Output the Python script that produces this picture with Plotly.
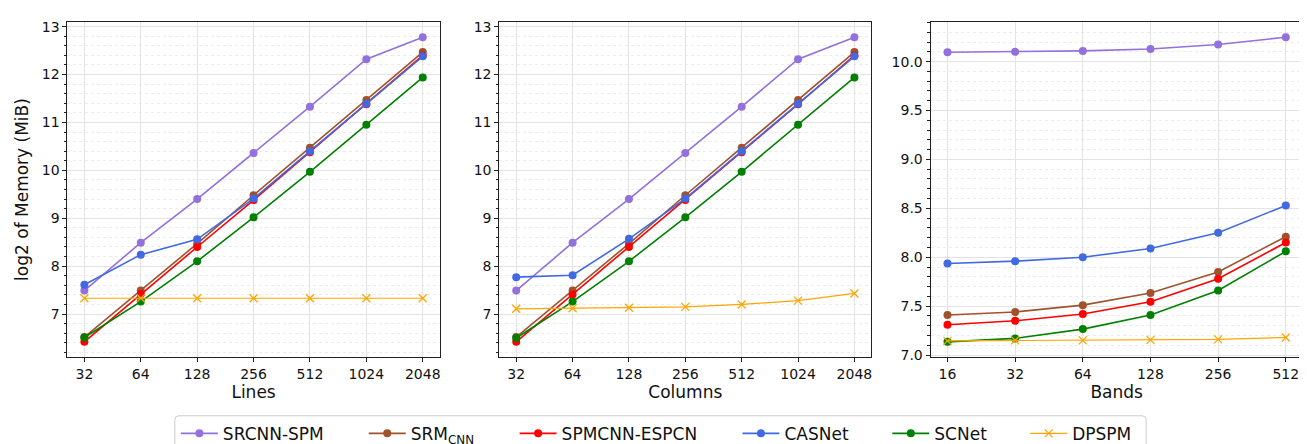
import plotly.graph_objects as go
import math

# ---------------- data ----------------
lines_x = [32, 64, 128, 256, 512, 1024, 2048]
columns_x = [32, 64, 128, 256, 512, 1024, 2048]
bands_x = [16, 32, 64, 128, 256, 512]

series_names = ["SRCNN-SPM", "SRM<sub>CNN</sub>", "SPMCNN-ESPCN", "CASNet", "SCNet", "DPSPM"]

lines_srcnn = [7.49, 8.49, 9.40, 10.36, 11.33, 12.32, 12.78]
lines_srm = [6.52, 7.49, 8.47, 9.48, 10.47, 11.47, 12.47]
lines_spmcnn = [6.42, 7.42, 8.40, 9.38, 10.38, 11.38, 12.40]
lines_casnet = [7.61, 8.24, 8.56, 9.41, 10.40, 11.39, 12.38]
lines_scnet = [6.51, 7.26, 8.10, 9.02, 9.97, 10.95, 11.94]
lines_dpspm = [7.33, 7.33, 7.33, 7.33, 7.33, 7.33, 7.33]

cols_srcnn = [7.49, 8.49, 9.40, 10.36, 11.33, 12.32, 12.78]
cols_srm = [6.52, 7.49, 8.47, 9.48, 10.47, 11.47, 12.47]
cols_spmcnn = [6.42, 7.41, 8.40, 9.38, 10.38, 11.38, 12.40]
cols_casnet = [7.77, 7.81, 8.57, 9.41, 10.40, 11.39, 12.38]
cols_scnet = [6.50, 7.26, 8.10, 9.02, 9.97, 10.95, 11.94]
cols_dpspm = [7.11, 7.12, 7.13, 7.15, 7.20, 7.28, 7.43]

bands_srcnn = [10.096, 10.10, 10.11, 10.13, 10.175, 10.25]
bands_srm = [7.41, 7.44, 7.51, 7.635, 7.85, 8.21]
bands_spmcnn = [7.31, 7.35, 7.42, 7.545, 7.78, 8.15]
bands_casnet = [7.936, 7.96, 8.00, 8.09, 8.25, 8.53]
bands_scnet = [7.135, 7.17, 7.265, 7.41, 7.66, 8.06]
bands_dpspm = [7.145, 7.15, 7.15, 7.155, 7.16, 7.18]

colors = ["#9370DB", "#A0522D", "#FF0000", "#4169E1", "#008000", "#FFA500"]

panels = [
    (lines_x, [lines_srcnn, lines_srm, lines_spmcnn, lines_casnet, lines_scnet, lines_dpspm], "Lines"),
    (columns_x, [cols_srcnn, cols_srm, cols_spmcnn, cols_casnet, cols_scnet, cols_dpspm], "Columns"),
    (bands_x, [bands_srcnn, bands_srm, bands_spmcnn, bands_casnet, bands_scnet, bands_dpspm], "Bands"),
]

W, H = 1307, 444
x_domains = [(59.5, 432), (491.7, 864), (923.3, 1295.7)]
y_dom = [(H - 356.5) / H, (H - 11.3) / H]

# legend layout (pixel positions of each entry's symbol start)
legend_starts = [173, 361, 512, 735, 885, 1023]
legend_box = (167, 1139, 417)

FONT = "DejaVu Sans"
fig = go.Figure()

legend_ids = ["legend"] + [f"legend{i}" for i in range(2, 7)]

for p, (xs, ys_list, title) in enumerate(panels):
    xa = "x" if p == 0 else f"x{p+1}"
    ya = "y" if p == 0 else f"y{p+1}"
    for s, ys in enumerate(ys_list):
        is_dp = (s == 5)
        fig.add_trace(go.Scatter(
            x=xs, y=ys, xaxis=xa, yaxis=ya,
            mode="lines+markers",
            name=series_names[s],
            legendgroup=series_names[s],
            legend=legend_ids[s],
            showlegend=(p == 0),
            line=dict(color=colors[s], width=1.2 if is_dp else 1.6),
            marker=dict(color=colors[s],
                        symbol="x-thin" if is_dp else "circle",
                        size=8,
                        line=dict(color=colors[s], width=1.3 if is_dp else 0)),
        ))

axis_common = dict(
    showline=True, mirror=True, linecolor="#222", linewidth=1,
    ticks="outside", ticklen=4, tickwidth=1, tickcolor="#222",
    tickfont=dict(family=FONT, size=14, color="#111"),
    showgrid=True, gridcolor="#e3e3e3", gridwidth=1,
    zeroline=False,
)

layout = dict(
    width=W, height=H,
    margin=dict(l=0, r=0, t=0, b=0),
    paper_bgcolor="white", plot_bgcolor="white",
    font=dict(family=FONT, color="#111"),
    showlegend=True,
)

for i, lid in enumerate(legend_ids):
    layout[lid] = dict(
        orientation="h", x=(legend_starts[i] - 5) / W, xanchor="left",
        y=(H - legend_box[2]) / H, yanchor="top",
        font=dict(family=FONT, size=17, color="#111"),
        borderwidth=0, bgcolor="rgba(0,0,0,0)", itemwidth=37,
    )

for p, (xs, ys_list, title) in enumerate(panels):
    key = "" if p == 0 else str(p + 1)
    lo = math.log2(xs[0]); hi = math.log2(xs[-1])
    m = (hi - lo) * 0.05
    xr = [(lo - m) * math.log10(2), (hi + m) * math.log10(2)]
    allv = [v for ys in ys_list for v in ys]
    ymin, ymax = min(allv), max(allv)
    ym = (ymax - ymin) * 0.05
    yr = [ymin - ym, ymax + ym]
    d0, d1 = x_domains[p]
    layout["xaxis" + key] = dict(
        axis_common, type="log", range=xr, domain=[d0 / W, d1 / W],
        tickvals=xs, ticktext=[str(v) for v in xs],
        anchor="y" + key,
        title=dict(text=title, font=dict(family=FONT, size=17, color="#111"), standoff=4),
    )
    if p < 2:
        ytv = [7, 8, 9, 10, 11, 12, 13]
        ytt = [str(v) for v in ytv]
        mdt = 0.2
    else:
        ytv = [7.0, 7.5, 8.0, 8.5, 9.0, 9.5, 10.0]
        ytt = [f"{v:.1f}" for v in ytv]
        mdt = 0.1
    ydict = dict(
        axis_common, range=yr, domain=y_dom,
        tickvals=ytv, ticktext=ytt,
        anchor="x" + key,
        minor=dict(dtick=mdt, tick0=7, ticks="outside", ticklen=2.5, tickcolor="#222",
                   showgrid=True, gridcolor="#ebebeb", griddash="dot", gridwidth=1),
    )
    if p == 0:
        ydict["title"] = dict(text="log2 of Memory (MiB)",
                              font=dict(family=FONT, size=17, color="#111"), standoff=8)
    layout["yaxis" + key] = ydict

# rounded legend frame
x0, x1, y0 = legend_box
y1 = H + 20
r = 4
def px(xv):
    return xv / W
def py(yv):
    return (H - yv) / H
path = (f"M {px(x0 + r)},{py(y0)} L {px(x1 - r)},{py(y0)} "
        f"Q {px(x1)},{py(y0)} {px(x1)},{py(y0 + r)} L {px(x1)},{py(y1)} "
        f"L {px(x0)},{py(y1)} L {px(x0)},{py(y0 + r)} "
        f"Q {px(x0)},{py(y0)} {px(x0 + r)},{py(y0)} Z")
layout["shapes"] = [dict(type="path", xref="paper", yref="paper", path=path,
                         line=dict(color="#cccccc", width=1), fillcolor="white",
                         layer="below")]

fig.update_layout(**layout)
fig.write_html("out.html")
